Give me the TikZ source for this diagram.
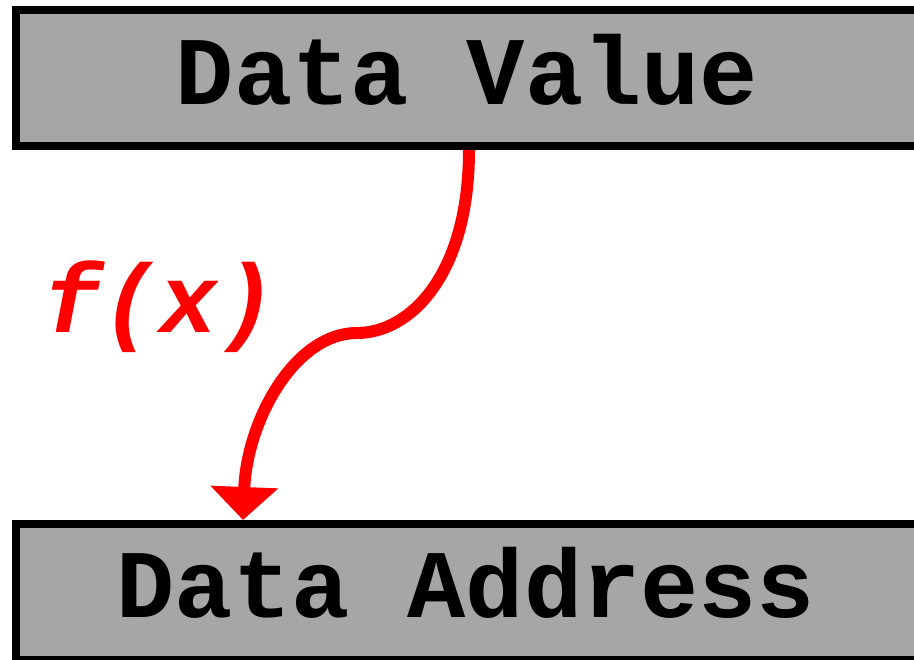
\documentclass[tikz,border=0pt]{standalone}
\usepackage{fontspec}
\setmonofont{Liberation Mono}
\usetikzlibrary{arrows.meta}
\definecolor{boxgray}{HTML}{A6A6A6}
\definecolor{fred}{HTML}{FF0000}
\tikzset{
  regbox/.style={draw=black, line width=8pt, fill=boxgray, minimum width=904pt, minimum height=136pt, inner sep=0pt, outer sep=0pt},
  regtext/.style={anchor=base, inner sep=0pt, font=\ttfamily\bfseries\fontsize{97}{97}\selectfont},
  fnlabel/.style={anchor=base, inner sep=0pt, text=fred, font=\ttfamily\bfseries\itshape\fontsize{97}{97}\selectfont},
  maparrow/.style={draw=fred, line width=12pt, -{Triangle[width=66pt,length=33pt]}}
}
\begin{document}
\begin{tikzpicture}[x=1pt,y=-1pt]
\useasboundingbox (0,0) rectangle (914,660);
\clip (0,0) rectangle (914,660);
\node[regbox] (val) at (468,78) {};
\node[regbox] (addr) at (468,592) {};
\node[regtext] (valtext) at (467,105) {Data Value};
\node[regtext] (addrtext) at (466,617) {Data Address};
\node[fnlabel] (fx) at (160,333) {f(x)};
\coordinate (start) at (469,150);
\coordinate (mid) at (357,333);
\coordinate (tip) at (243,520);
\draw[maparrow] (start) .. controls (469,275) and (410,333) .. (mid) .. controls (295,333) and (247,420) .. (tip);
\end{tikzpicture}
\end{document}
